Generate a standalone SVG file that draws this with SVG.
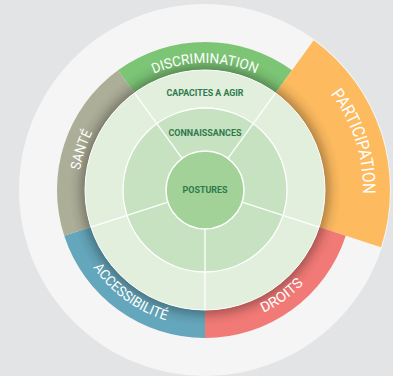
<svg xmlns="http://www.w3.org/2000/svg" width="393" height="376" viewBox="0 0 393 376">
<style>
.lbl{font-family:Roboto,"Liberation Sans",sans-serif;font-weight:400;fill:#ffffff;}
.in{font-family:Roboto,"Liberation Sans",sans-serif;font-weight:700;fill:#2f7a4c;font-size:8.6px;text-anchor:middle;}
.sep{stroke:#ffffff;stroke-width:1.3;fill:none;}
</style>
<defs>
<radialGradient id="shadow" cx="205" cy="190" r="136" gradientUnits="userSpaceOnUse">
<stop offset="0.88" stop-color="#000" stop-opacity="0.28"/>
<stop offset="0.95" stop-color="#000" stop-opacity="0.06"/>
<stop offset="1" stop-color="#000" stop-opacity="0"/>
</radialGradient>
<path id="pDisc" d="M130.35,87.26 A127,127 0 0 1 279.65,87.26"/>
<path id="pSante" d="M84.8,229.05 A126.5,126.5 0 0 1 130.65,87.66"/>
<path id="pPart" d="M297.9,62.1 A158,158 0 0 1 355.3,238.8"/>
<path id="pAcc" d="M75.65,232.03 A136,136 0 0 0 205,326"/>
<path id="pDroits" d="M205,326 A136,136 0 0 0 334.35,232.03"/>
</defs>
<rect x="0" y="0" width="393" height="376" fill="#e3e4e6"/>
<circle cx="205" cy="190" r="186" fill="#f5f5f5"/>

<g id="discrimination">
<path d="M118,70.27 A148,148 0 0 1 292,70.27 L275.54,92.92 A120,120 0 0 0 134.46,92.92 Z" fill="#7cc575"/>
</g>
<g id="participation">
<path d="M313.74,40.33 A185,185 0 0 1 380.95,247.17 L319.13,227.08 A120,120 0 0 0 275.54,92.92 Z" fill="#fdba5f"/>
</g>
<g id="droits">
<path d="M345.76,235.73 A148,148 0 0 1 205,338 L205,310 A120,120 0 0 0 319.13,227.08 Z" fill="#f27a76"/>
</g>
<g id="accessibilite">
<path d="M205,338 A148,148 0 0 1 64.24,235.73 L90.87,227.08 A120,120 0 0 0 205,310 Z" fill="#64a6bb"/>
</g>
<g id="sante">
<path d="M64.24,235.73 A148,148 0 0 1 118,70.27 L134.46,92.92 A120,120 0 0 0 90.87,227.08 Z" fill="#adae98"/>
</g>
<circle cx="205" cy="190" r="136" fill="url(#shadow)"/>

<g id="labels">
<text class="lbl" font-size="14"><textPath href="#pDisc" startOffset="50%" text-anchor="middle" textLength="105" lengthAdjust="spacingAndGlyphs">DISCRIMINATION</textPath></text>
<text class="lbl" font-size="14"><textPath href="#pSante" startOffset="50%" text-anchor="middle" textLength="40" lengthAdjust="spacingAndGlyphs">SANTÉ</textPath></text>
<text class="lbl" font-size="17.5"><textPath href="#pPart" startOffset="50%" text-anchor="middle" textLength="107" lengthAdjust="spacingAndGlyphs">PARTICIPATION</textPath></text>
<text class="lbl" font-size="14"><textPath href="#pAcc" startOffset="50%" text-anchor="middle" textLength="92" lengthAdjust="spacingAndGlyphs">ACCESSIBILITÉ</textPath></text>
<text class="lbl" font-size="14"><textPath href="#pDroits" startOffset="50%" text-anchor="middle" textLength="50" lengthAdjust="spacingAndGlyphs">DROITS</textPath></text>
</g>

<g id="capacites">
<circle cx="205" cy="190" r="120" fill="#e1efdc" stroke="#ffffff" stroke-width="1"/>
</g>
<g id="connaissances">
<circle cx="205" cy="190" r="82" fill="#c6e2c0" stroke="#ffffff" stroke-width="1.3"/>
</g>
<g id="connectors">
<line class="sep" x1="182.08" y1="158.45" x2="134.46" y2="92.92"/>
<line class="sep" x1="227.92" y1="158.45" x2="275.54" y2="92.92"/>
<line class="sep" x1="242.09" y1="202.05" x2="319.13" y2="227.08"/>
<line class="sep" x1="205" y1="229" x2="205" y2="310"/>
<line class="sep" x1="167.91" y1="202.05" x2="90.87" y2="227.08"/>
</g>
<g id="postures">
<circle cx="205" cy="190" r="39" fill="#a2d298" stroke="#ffffff" stroke-width="1.5"/>
</g>
<g id="innerText">
<text class="in" x="205" y="96" textLength="77" lengthAdjust="spacingAndGlyphs">CAPACITES A AGIR</text>
<text class="in" x="205" y="135.5" textLength="73" lengthAdjust="spacingAndGlyphs">CONNAISSANCES</text>
<text class="in" x="205" y="193.3" textLength="45" lengthAdjust="spacingAndGlyphs">POSTURES</text>
</g>
</svg>
